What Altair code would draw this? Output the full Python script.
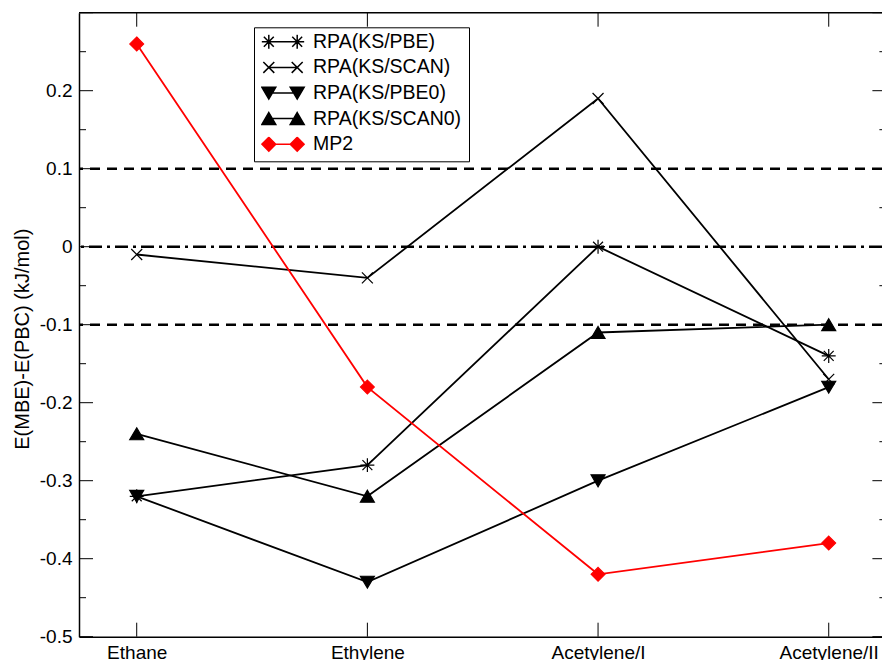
import altair as alt
import pandas as pd

# ---- data -------------------------------------------------------------
categories = ["Ethane", "Ethylene", "Acetylene/I", "Acetylene/II"]
series_names = ["RPA(KS/PBE)", "RPA(KS/SCAN)", "RPA(KS/PBE0)", "RPA(KS/SCAN0)", "MP2"]

rpa_pbe = [-0.32, -0.28, 0.00, -0.14]
rpa_scan = [-0.01, -0.04, 0.19, -0.17]
rpa_pbe0 = [-0.32, -0.43, -0.30, -0.18]
rpa_scan0 = [-0.24, -0.32, -0.11, -0.10]
mp2 = [0.26, -0.18, -0.42, -0.38]

y_labels = [-0.5, -0.4, -0.3, -0.2, -0.1, 0.0, 0.1, 0.2]
y_major = [-0.5, -0.4, -0.3, -0.2, -0.1, 0.0, 0.1, 0.2, 0.3]
y_minor = [-0.45, -0.35, -0.25, -0.15, -0.05, 0.05, 0.15, 0.25]
dashed_levels = [0.1, -0.1]
dashdot_levels = [0.0]
top_level = [0.3]

line_colors = ["black", "black", "black", "black", "#ff0000"]
fill_colors = ["transparent", "transparent", "black", "black", "#ff0000"]

# ---- marker outlines (unit square) -------------------------------------
marker_parts = {
    "RPA(KS/PBE)": [([(-0.93, 0), (0.93, 0)], False), ([(0, -0.93), (0, 0.93)], False),
                    ([(-0.66, -0.66), (0.66, 0.66)], False), ([(-0.66, 0.66), (0.66, -0.66)], False)],
    "RPA(KS/SCAN)": [([(-0.73, -0.73), (0.73, 0.73)], False), ([(-0.73, 0.73), (0.73, -0.73)], False)],
    "RPA(KS/PBE0)": [([(-0.93, -0.78), (0.93, -0.78), (0, 0.8)], True)],
    "RPA(KS/SCAN0)": [([(0, -0.8), (0.93, 0.78), (-0.93, 0.78)], True)],
    "MP2": [([(0, -0.92), (0.92, 0), (0, 0.92), (-0.92, 0)], True)],
}


def to_path(parts, scale=1.0, dx=0.0):
    out = []
    for pts, closed in parts:
        seg = "M" + "L".join(f"{x * scale + dx:.3f},{y * scale:.3f}" for x, y in pts)
        out.append(seg + ("Z" if closed else ""))
    return "".join(out)


MARK_SIZE = 225          # 15 px square
LEGEND_SIZE = 1764       # 42 px square
k = (MARK_SIZE ** 0.5) / (LEGEND_SIZE ** 0.5)
cx = 0.676

marker_paths = [to_path(marker_parts[n]) for n in series_names]
legend_paths = []
for n in series_names:
    link = f"M{-cx:.3f},0L{cx:.3f},0"
    legend_paths.append(link + to_path(marker_parts[n], k, -cx) + to_path(marker_parts[n], k, cx))

rows = []
for name, vals in zip(series_names, [rpa_pbe, rpa_scan, rpa_pbe0, rpa_scan0, mp2]):
    for c, v in zip(categories, vals):
        rows.append({"series": name, "system": c, "value": v})
df = pd.DataFrame(rows)

# ---- layout -----------------------------------------------------------
W, H = 803, 624
FONT = "Liberation Sans"
right_edge = 807.4

xscale = alt.Scale(domain=categories, type="point", padding=0.2406, align=0.52)
yscale = alt.Scale(domain=[-0.5, 0.3], nice=False, zero=False)

x_axis = alt.Axis(title=None, labelAngle=0, labelFont=FONT, labelFontSize=19,
                  labelColor="black", labelPadding=7, ticks=False, tickSize=0,
                  domain=True, domainColor="black", domainWidth=1.5, grid=False)
y_axis = alt.Axis(values=y_labels, labelExpr="toString(round(datum.value*10)/10)",
                  labelFont=FONT, labelFontSize=19, labelColor="black", labelPadding=7,
                  ticks=False, tickSize=0, domain=True, domainColor="black",
                  domainWidth=1.5, grid=False,
                  title="E(MBE)-E(PBC) (kJ/mol)", titleFont=FONT, titleFontSize=20,
                  titleFontWeight="normal", titleColor="black", titleAngle=270,
                  titleX=-57, titleY=326, titleAlign="center", titleBaseline="middle")


def X(field):
    return alt.X(field, scale=xscale, axis=x_axis)


def Y(field):
    return alt.Y(field, scale=yscale, axis=y_axis)


# one line + marker layer per series
series_layers = []
for name, path, fc, sc in zip(series_names, marker_paths, fill_colors, line_colors):
    base = alt.Chart(df).transform_filter(alt.datum.series == name)
    series_layers.append(
        base.mark_line(color=sc, strokeWidth=1.8).encode(x=X("system:N"), y=Y("value:Q"))
    )
    series_layers.append(
        base.mark_point(shape=path, size=MARK_SIZE, fill=fc, stroke=sc, strokeWidth=1.2,
                        opacity=1).encode(x=X("system:N"), y=Y("value:Q"))
    )

# key: marker-line-marker symbols driven by the series scales
legend = alt.Legend(
    title=None, orient="none", legendX=175, legendY=14.6,
    labelFont=FONT, labelFontSize=19.5, labelColor="black", labelOffset=8,
    symbolSize=LEGEND_SIZE, symbolStrokeWidth=1.5, symbolOpacity=1,
    clipHeight=15, rowPadding=5.6,
    padding=7, strokeColor="black", fillColor="white",
)
key = alt.Chart(df).transform_filter("false").mark_point(
    size=LEGEND_SIZE, strokeWidth=1.5, opacity=1
).encode(
    x=X("system:N"),
    y=Y("value:Q"),
    shape=alt.Shape("series:N", scale=alt.Scale(domain=series_names, range=legend_paths), legend=legend),
    fill=alt.Fill("series:N", scale=alt.Scale(domain=series_names, range=fill_colors), legend=legend),
    stroke=alt.Stroke("series:N", scale=alt.Scale(domain=series_names, range=line_colors), legend=legend),
)

dashed = alt.Chart(pd.DataFrame({"v": dashed_levels})).mark_rule(
    color="black", strokeWidth=2.5, strokeDash=[10, 7]
).encode(y=Y("v:Q"))

dashdot = alt.Chart(pd.DataFrame({"v": dashdot_levels})).mark_rule(
    color="black", strokeWidth=2.5, strokeDash=[13, 5, 3, 5]
).encode(y=Y("v:Q"))

top_frame = alt.Chart(pd.DataFrame({"v": top_level})).mark_rule(
    color="black", strokeWidth=1.5
).encode(y=Y("v:Q"))


def ytick(vals, x0, x1):
    return alt.Chart(pd.DataFrame({"v": vals})).mark_rule(color="black", strokeWidth=1).encode(
        y=Y("v:Q"), x=alt.value(x0), x2=alt.value(x1))


def xtick(y0, y1):
    return alt.Chart(pd.DataFrame({"c": categories})).mark_rule(color="black", strokeWidth=1).encode(
        x=X("c:N"), y=alt.value(y0), y2=alt.value(y1))


ticks = [
    ytick(y_major, 0, 14), ytick(y_minor, 0, 7),
    ytick(y_major, right_edge - 14, right_edge), ytick(y_minor, right_edge - 7, right_edge),
    xtick(H - 14, H), xtick(0, 14),
]

chart = alt.layer(
    dashed, dashdot, top_frame, *ticks, *series_layers, key
).properties(
    width=W, height=H,
    padding={"left": 79, "top": 12.7, "right": 0, "bottom": 23.3},
    autosize=alt.AutoSizeParams(type="none"),
    background="white",
).configure_view(stroke=None)

chart.save("out.html", embed_options={"renderer": "svg", "actions": False})
